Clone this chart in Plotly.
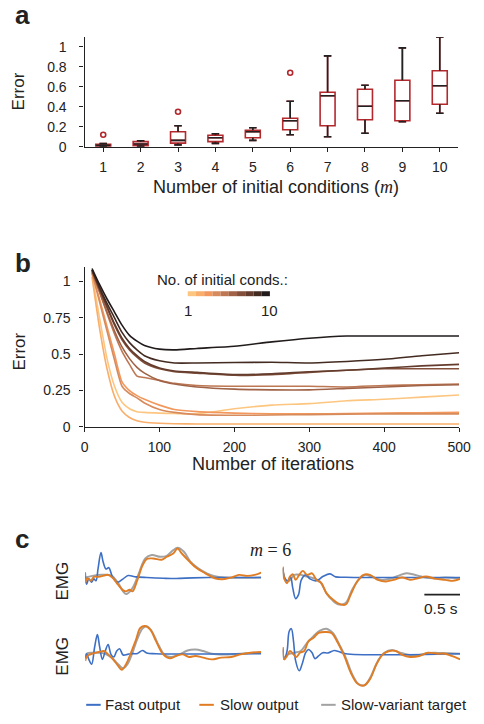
import plotly.graph_objects as go

FONT = "Liberation Sans, Arial, sans-serif"
SERIF = "Liberation Serif, DejaVu Serif, serif"
INK = "#222222"
RED = "#b3282d"
BLUE = "#3d6fc4"
ORANGE = "#e07d24"
GREY = "#a2a2a2"
W, H = 484, 724

# ---- panel a: error vs number of initial conditions (box summaries)
m_values = [1, 2, 3, 4, 5, 6, 7, 8, 9, 10]
box_low = [0.0, 0.005, 0.018, 0.033, 0.063, 0.12, 0.10, 0.135, 0.25, 0.335]
box_q1 = [0.003, 0.01, 0.035, 0.05, 0.09, 0.17, 0.21, 0.27, 0.26, 0.425]
box_median = [0.013, 0.026, 0.063, 0.09, 0.15, 0.26, 0.51, 0.405, 0.46, 0.61]
box_q3 = [0.023, 0.05, 0.15, 0.115, 0.165, 0.285, 0.545, 0.575, 0.665, 0.76]
box_high = [0.03, 0.06, 0.21, 0.13, 0.19, 0.455, 0.91, 0.615, 0.99, 1.10]
outlier_m = [1, 3, 6]
outlier_err = [0.12, 0.35, 0.74]

# ---- panel b: error vs iterations for m = 1..10
iterations = [10, 20, 30, 40, 50, 60, 70, 80, 100, 120, 150, 200, 250, 300, 350, 400, 450, 500]
err_m1 = [1.05, 0.75, 0.47, 0.28, 0.17, 0.125, 0.105, 0.10, 0.095, 0.092, 0.09, 0.125, 0.15, 0.16, 0.18, 0.19, 0.205, 0.22]
err_m2 = [1.03, 0.68, 0.40, 0.21, 0.11, 0.065, 0.042, 0.032, 0.025, 0.022, 0.02, 0.02, 0.02, 0.02, 0.02, 0.02, 0.02, 0.02]
err_m3 = [1.06, 0.88, 0.69, 0.50, 0.31, 0.25, 0.215, 0.19, 0.15, 0.12, 0.105, 0.095, 0.09, 0.09, 0.092, 0.095, 0.098, 0.10]
err_m4 = [1.06, 0.86, 0.66, 0.46, 0.28, 0.23, 0.20, 0.165, 0.12, 0.10, 0.085, 0.08, 0.082, 0.085, 0.088, 0.09, 0.09, 0.09]
err_m5 = [1.07, 0.93, 0.78, 0.64, 0.52, 0.43, 0.35, 0.34, 0.32, 0.30, 0.285, 0.28, 0.28, 0.28, 0.275, 0.285, 0.29, 0.295]
err_m6 = [1.07, 0.93, 0.79, 0.66, 0.55, 0.47, 0.41, 0.37, 0.32, 0.295, 0.275, 0.26, 0.255, 0.255, 0.265, 0.275, 0.285, 0.29]
err_m7 = [1.08, 0.95, 0.82, 0.70, 0.60, 0.53, 0.48, 0.44, 0.40, 0.38, 0.37, 0.355, 0.36, 0.375, 0.39, 0.40, 0.40, 0.40]
err_m8 = [1.08, 0.95, 0.83, 0.71, 0.61, 0.54, 0.49, 0.45, 0.405, 0.385, 0.375, 0.36, 0.365, 0.38, 0.39, 0.405, 0.42, 0.43]
err_m9 = [1.08, 0.96, 0.85, 0.75, 0.65, 0.58, 0.53, 0.49, 0.455, 0.44, 0.44, 0.443, 0.445, 0.44, 0.45, 0.465, 0.49, 0.51]
err_m10 = [1.09, 0.98, 0.88, 0.79, 0.70, 0.63, 0.59, 0.56, 0.535, 0.53, 0.54, 0.555, 0.585, 0.61, 0.625, 0.625, 0.625, 0.625]
error_curves = [err_m1, err_m2, err_m3, err_m4, err_m5, err_m6, err_m7, err_m8, err_m9, err_m10]
m_colors = ["#fdc680", "#f9ae6b", "#f2985d", "#d78a5b", "#bd7752", "#a06347", "#814f3a", "#633c2d", "#442b22", "#221b1c"]

# ---- panel c: EMG traces (time in s, arbitrary amplitude), m = 6
tl_t_target = [0.0, 0.10, 0.23, 0.37, 0.46, 0.57, 0.66, 0.75, 0.84, 0.93, 1.05, 1.14, 1.23, 1.29, 1.38, 1.47, 1.59, 1.70, 1.81, 1.95, 2.46]
tl_target = [0.0, 0.17, 0.27, 0.2, -0.57, -1.67, -1.07, 0.43, 1.93, 2.27, 2.1, 2.2, 2.77, 3.0, 2.6, 1.6, 0.87, 0.43, 0.13, 0.0, 0.0]
tl_t_slow = [0.0, 0.03, 0.08, 0.12, 0.19, 0.26, 0.32, 0.39, 0.46, 0.53, 0.57, 0.62, 0.66, 0.73, 0.80, 0.86, 0.95, 1.07, 1.14, 1.23,
             1.29, 1.35, 1.45, 1.56, 1.68, 1.81, 1.92, 2.04, 2.15, 2.26, 2.37, 2.46]
tl_slow = [-0.57, -0.07, -0.33, 0.07, 0.07, 0.2, 0.27, -0.07, -0.73, -1.3, -1.4, -1.23, -1.4, -0.23, 1.2, 1.87, 1.93, 1.8, 2.1, 2.43,
           2.93, 2.43, 1.67, 0.93, 0.43, -0.07, -0.17, 0.0, 0.27, 0.17, 0.27, 0.5]
tl_t_fast = [0.0, 0.02, 0.05, 0.09, 0.12, 0.15, 0.18, 0.22, 0.25, 0.29, 0.33, 0.38, 0.45, 0.53, 0.60, 0.71, 0.86, 1.09, 1.27, 1.50, 1.72, 2.46]
tl_fast = [0.53, -0.67, -0.13, -0.47, -0.13, -0.33, 0.93, 2.53, 1.6, 0.87, 1.0, 0.1, -0.47, -0.13, 0.2, 0.07, 0.0, -0.07, -0.1, -0.03, 0.0, 0.0]

tr_t_target = [0.0, 0.03, 0.09, 0.16, 0.25, 0.34, 0.43, 0.52, 0.61, 0.70, 0.79, 0.88, 0.97, 1.06, 1.15, 1.24, 1.37, 1.50, 1.62, 1.73,
               1.82, 1.94, 2.09, 2.27, 2.48]
tr_target = [1.0, -0.23, -0.33, 0.27, 0.27, 0.1, -0.07, -0.4, -1.57, -2.33, -2.73, -2.57, -1.23, -0.23, 0.27, 0.1, -0.23, -0.13, 0.2, 0.43,
             0.33, 0.1, -0.07, 0.0, -0.07]
tr_t_slow = [0.0, 0.02, 0.06, 0.10, 0.14, 0.18, 0.23, 0.28, 0.34, 0.41, 0.47, 0.54, 0.61, 0.70, 0.79, 0.88, 0.95, 1.04, 1.13, 1.22,
             1.33, 1.44, 1.55, 1.67, 1.78, 1.89, 2.00, 2.14, 2.27, 2.38, 2.48]
tr_slow = [1.1, -0.07, -0.57, 0.1, 0.33, -0.23, 0.27, 0.67, 0.27, 0.43, -0.23, -0.57, -1.57, -2.23, -2.67, -2.73, -1.73, -0.4, 0.27, 0.27,
           -0.23, -0.4, -0.23, 0.0, -0.23, -0.07, 0.1, -0.13, -0.23, -0.33, -0.13]
tr_t_fast = [0.0, 0.03, 0.07, 0.11, 0.14, 0.18, 0.22, 0.26, 0.32, 0.38, 0.47, 0.56, 0.66, 0.74, 0.88, 1.15, 2.48]
tr_fast = [0.93, -0.07, -0.33, 0.0, -1.07, -2.13, -1.73, -0.23, 0.27, -0.13, -0.33, 0.1, 0.37, 0.07, 0.03, 0.0, 0.0]

bl_t_target = [0.0, 0.02, 0.10, 0.19, 0.28, 0.37, 0.46, 0.53, 0.59, 0.66, 0.73, 0.80, 0.86, 0.93, 1.02, 1.11, 1.20, 1.32, 1.43, 1.54,
               1.65, 1.77, 1.95, 2.17, 2.46]
bl_target = [-0.4, 0.0, 0.1, 0.1, 0.0, -0.4, -1.07, -1.47, -1.07, 0.1, 1.53, 2.53, 2.77, 2.27, 0.93, -0.13, -0.33, -0.07, 0.33, 0.43,
             0.27, 0.0, -0.07, 0.0, 0.13]
bl_t_slow = [0.0, 0.02, 0.05, 0.10, 0.19, 0.26, 0.32, 0.39, 0.46, 0.51, 0.57, 0.64, 0.71, 0.77, 0.84, 0.91, 0.99, 1.09, 1.18, 1.27,
             1.36, 1.45, 1.54, 1.65, 1.77, 1.90, 2.04, 2.17, 2.31, 2.46]
bl_slow = [-0.73, -0.33, -0.13, 0.0, 0.17, 0.27, -0.07, -0.57, -1.23, -1.63, -1.07, 0.1, 1.43, 2.6, 2.8, 2.43, 1.27, -0.07, -0.47, -0.23,
           -0.07, -0.33, -0.23, -0.4, -0.57, -0.4, -0.33, -0.07, 0.1, 0.17]
bl_t_fast = [0.0, 0.02, 0.05, 0.09, 0.13, 0.17, 0.20, 0.24, 0.28, 0.32, 0.36, 0.40, 0.44, 0.48, 0.53, 0.59, 0.64, 0.73, 0.80, 0.86,
             0.99, 2.46]
bl_fast = [-0.47, 0.0, -0.57, -1.07, 0.6, 1.93, 0.77, -0.57, 0.27, 0.93, -0.07, -0.33, 0.27, 0.5, -0.13, -0.07, 0.0, 0.03, 0.33, 0.07,
           0.0, 0.0]

br_t_target = [0.0, 0.02, 0.07, 0.16, 0.25, 0.34, 0.43, 0.52, 0.61, 0.70, 0.79, 0.88, 0.97, 1.06, 1.15, 1.24, 1.33, 1.42, 1.53, 1.64,
               1.78, 1.91, 2.05, 2.23, 2.48]
br_target = [0.6, -0.4, -0.07, 0.1, 0.27, 1.1, 1.77, 2.33, 2.53, 2.1, 0.93, -0.4, -2.07, -3.07, -3.17, -2.17, -0.73, 0.1, 0.37, 0.1,
             -0.13, -0.13, 0.07, 0.07, 0.0]
br_t_slow = [0.0, 0.02, 0.06, 0.10, 0.15, 0.19, 0.24, 0.30, 0.36, 0.43, 0.50, 0.59, 0.68, 0.77, 0.86, 0.95, 1.04, 1.13, 1.22, 1.31,
             1.40, 1.49, 1.58, 1.67, 1.78, 1.91, 2.03, 2.16, 2.27, 2.36, 2.48]
br_slow = [0.67, -0.57, -0.23, 0.27, -0.07, -0.33, 0.1, 0.27, 1.27, 1.6, 2.1, 2.2, 2.1, 1.1, -0.23, -1.9, -3.0, -3.23, -2.57, -1.07,
           -0.07, 0.27, 0.27, -0.13, -0.33, -0.23, 0.1, 0.0, 0.0, -0.23, -0.57]
br_t_fast = [0.0, 0.02, 0.06, 0.09, 0.12, 0.15, 0.18, 0.23, 0.27, 0.32, 0.36, 0.41, 0.45, 0.50, 0.56, 0.63, 0.72, 0.79, 0.88, 2.48]
br_fast = [0.43, -0.57, 0.27, 2.27, 2.53, 1.27, -0.73, -1.73, -1.07, 0.1, 0.43, 0.1, -0.5, -0.23, 0.1, 0.07, 0.33, 0.2, 0.0, 0.0]

legend_labels = ["Fast output", "Slow output", "Slow-variant target"]


def px(x):
    return x / W


def py(y):
    return 1 - y / H


fig = go.Figure()

# panel a
fig.add_trace(go.Box(x=m_values, q1=box_q1, median=box_median, q3=box_q3,
                     lowerfence=box_low, upperfence=box_high,
                     width=0.4, whiskerwidth=0.5, boxpoints=False,
                     line=dict(color=RED, width=1.6), fillcolor="rgba(0,0,0,0)",
                     xaxis="x", yaxis="y", showlegend=False, hoverinfo="skip"))
wx, wy = [], []
for m, lo, q1, q3, hi in zip(m_values, box_low, box_q1, box_q3, box_high):
    wx += [m, m, None, m, m, None, m - 0.1, m + 0.1, None, m - 0.1, m + 0.1, None]
    wy += [q3, hi, None, q1, lo, None, hi, hi, None, lo, lo, None]
fig.add_trace(go.Scatter(x=wx, y=wy, mode="lines", line=dict(color=INK, width=1.6),
                         xaxis="x", yaxis="y", showlegend=False, hoverinfo="skip"))
mx, my = [], []
for m, med in zip(m_values, box_median):
    mx += [m - 0.19, m + 0.19, None]
    my += [med, med, None]
fig.add_trace(go.Scatter(x=mx, y=my, mode="lines", line=dict(color=INK, width=1.6),
                         xaxis="x", yaxis="y", showlegend=False, hoverinfo="skip"))
fig.add_trace(go.Scatter(x=outlier_m, y=outlier_err, mode="markers",
                         marker=dict(symbol="circle-open", size=5, color=RED, line=dict(width=1.6)),
                         xaxis="x", yaxis="y", showlegend=False))

# panel b
for m, curve, col in zip(m_values, error_curves, m_colors):
    fig.add_trace(go.Scatter(x=iterations, y=curve, mode="lines", name=f"m={m}",
                             line=dict(color=col, width=1.6, shape="spline", smoothing=0.6),
                             xaxis="x2", yaxis="y2", showlegend=False))

# panel c
emg_panels = [
    ("x3", "y3", tl_t_fast, tl_fast, tl_t_slow, tl_slow, tl_t_target, tl_target),
    ("x4", "y4", tr_t_fast, tr_fast, tr_t_slow, tr_slow, tr_t_target, tr_target),
    ("x5", "y5", bl_t_fast, bl_fast, bl_t_slow, bl_slow, bl_t_target, bl_target),
    ("x6", "y6", br_t_fast, br_fast, br_t_slow, br_slow, br_t_target, br_target),
]
for xa, ya, tf, f, ts, s, tt, tg in emg_panels:
    fig.add_trace(go.Scatter(x=tt, y=tg, mode="lines", line=dict(color=GREY, width=2, shape="spline"),
                             xaxis=xa, yaxis=ya, showlegend=False))
    fig.add_trace(go.Scatter(x=tf, y=f, mode="lines", line=dict(color=BLUE, width=1.6, shape="spline"),
                             xaxis=xa, yaxis=ya, showlegend=False))
    fig.add_trace(go.Scatter(x=ts, y=s, mode="lines", line=dict(color=ORANGE, width=1.9, shape="spline"),
                             xaxis=xa, yaxis=ya, showlegend=False))

axis_style = dict(showline=True, linecolor=INK, linewidth=1.3, ticks="outside", ticklen=4,
                  tickwidth=1.3, tickcolor=INK, showgrid=False, zeroline=False,
                  tickfont=dict(family=FONT, size=14, color=INK), fixedrange=True)
hidden = dict(visible=False, showgrid=False, zeroline=False, fixedrange=True)

fig.update_layout(
    width=W, height=H, margin=dict(l=0, r=0, t=0, b=0),
    paper_bgcolor="white", plot_bgcolor="white",
    font=dict(family=FONT, color=INK),
    xaxis=dict(axis_style, domain=[px(83.3), px(470)], range=[0.5, 10.5],
               tickvals=m_values, anchor="y", ticklabelstandoff=3),
    yaxis=dict(axis_style, domain=[py(148.3), py(37.3)], range=[0, 1.1],
               tickvals=[0, 0.2, 0.4, 0.6, 0.8, 1], ticktext=["0", "0.2", "0.4", "0.6", "0.8", "1"],
               anchor="x", ticklabelstandoff=10),
    xaxis2=dict(axis_style, domain=[px(83.3), px(470.7)], range=[0, 500],
                tickvals=[0, 100, 200, 300, 400, 500], anchor="y2", ticklabelstandoff=3),
    yaxis2=dict(axis_style, domain=[py(431.7), py(270)], range=[0, 1.1],
                tickvals=[0, 0.25, 0.5, 0.75, 1], ticktext=["0", "0.25", "0.5", "0.75", "1"],
                anchor="x2", ticklabelstandoff=6),
    xaxis3=dict(hidden, domain=[px(84), px(266)], range=[0, 2.46], anchor="y3"),
    yaxis3=dict(hidden, domain=[py(619), py(549)], range=[-3.5, 3.5], anchor="x3"),
    xaxis4=dict(hidden, domain=[px(288.3), px(471.7)], range=[0, 2.48], anchor="y4"),
    yaxis4=dict(hidden, domain=[py(619), py(549)], range=[-3.5, 3.5], anchor="x4"),
    xaxis5=dict(hidden, domain=[px(84), px(266)], range=[0, 2.46], anchor="y5"),
    yaxis5=dict(hidden, domain=[py(696), py(626)], range=[-3.5, 3.5], anchor="x5"),
    xaxis6=dict(hidden, domain=[px(288.3), px(471.7)], range=[0, 2.48], anchor="y6"),
    yaxis6=dict(hidden, domain=[py(696), py(626)], range=[-3.5, 3.5], anchor="x6"),
)

shapes = []
# discrete colour key in panel b
for i, col in enumerate(m_colors):
    shapes.append(dict(type="rect", xref="paper", yref="paper", line=dict(width=0), fillcolor=col,
                       x0=px(190 + i * 8.5), x1=px(190 + (i + 1) * 8.5), y0=py(299.5), y1=py(294.5)))
# scale bar
shapes.append(dict(type="line", xref="x4", yref="y4", x0=1.98, x1=2.48, y0=-1.73, y1=-1.73,
                   line=dict(color=INK, width=1.6)))
# legend samples for panel c
for x0, col in zip([85, 202, 328], [BLUE, ORANGE, GREY]):
    shapes.append(dict(type="line", xref="paper", yref="paper", x0=px(x0), x1=px(x0 + 15),
                       y0=py(712.7), y1=py(712.7), line=dict(color=col, width=2)))
fig.update_layout(shapes=shapes)

ann = []


def label(text, x, y, size, **kw):
    ann.append(dict(text=text, x=px(x), y=py(y), xref="paper", yref="paper", showarrow=False,
                    xanchor=kw.pop("xanchor", "center"), yanchor="middle",
                    font=dict(family=kw.pop("family", FONT), size=size, color=INK), **kw))


label("<b>a</b>", 19, 15, 26)
label("<b>b</b>", 20, 266, 26)
label("<b>c</b>", 19, 545, 26)
label("Error", 16, 92, 17, textangle=-90)
label("Error", 16, 355, 17, textangle=-90)
label("Number of initial conditions (<span style=\"font-family:'Liberation Serif'\"><i>m</i></span>)",
      281, 189, 18)
label("Number of iterations", 278, 469, 18)
label("No. of initial conds.:", 226, 283, 15)
label("1", 190, 314, 15)
label("10", 275, 314, 15)
label("<i>m</i> = 6", 276, 556, 18, family=SERIF)
label("EMG", 61, 587, 17, textangle=-90)
label("EMG", 61, 663, 17, textangle=-90)
label("0.5 s", 472, 615, 15.5, xanchor="right")
for x0, txt in zip([102, 221, 346], legend_labels):
    label(txt, x0, 712.7, 15, xanchor="left")
fig.update_layout(annotations=ann)

# the page body has a default 8px margin; drop it so the figure sits at the window origin
fig.write_html("out.html", config={"displayModeBar": False},
               post_script="document.body.style.margin='0px';")
